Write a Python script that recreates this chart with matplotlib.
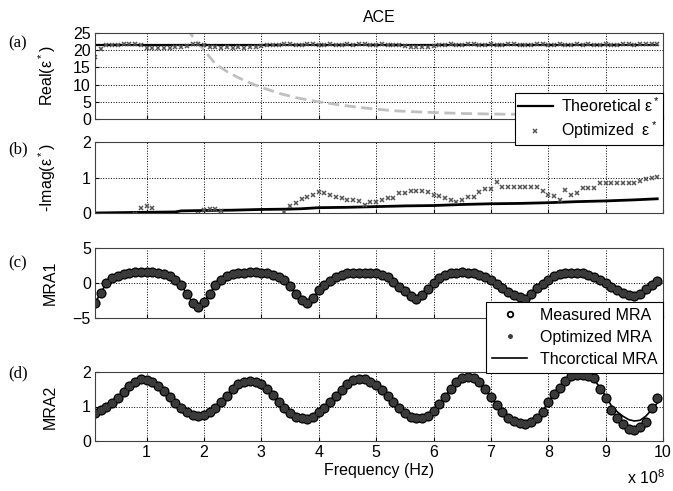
import numpy as np
import matplotlib
matplotlib.use('Agg')
import matplotlib.pyplot as plt
from matplotlib.lines import Line2D

plt.rcParams['font.family'] = ['Liberation Sans', 'DejaVu Sans']
plt.rcParams['mathtext.fontset'] = 'custom'
plt.rcParams['mathtext.rm'] = 'Liberation Sans'
plt.rcParams['mathtext.it'] = 'Liberation Sans'

# frequency samples (x 1e8 Hz)
freq = np.arange(1, 100) / 10.0

# (a) real part
real_theo_f = [0.1, 9.9]
real_theo = [21.6, 21.6]
real_opt = [18.0, 20.3, 21.4, 21.6, 21.5, 21.8, 21.7, 21.8, 21.4, 20.7,
            20.6, 20.5, 20.6, 20.5, 20.8, 21.0, 21.3, 21.9, 21.8, 21.6,
            20.9, 20.8, 20.7, 20.8, 20.6, 20.8, 20.7, 20.9, 20.8, 21.2,
            21.5, 21.6, 21.4, 21.7, 21.8, 21.5, 21.6, 21.7, 21.9, 21.6,
            21.5, 21.7, 21.6, 21.4, 21.8, 21.6, 21.7, 21.9, 21.5, 21.6,
            21.8, 21.5, 21.6, 21.4, 21.2, 20.9, 20.8, 20.9, 21.0, 21.3,
            21.5, 21.6, 21.7, 21.5, 21.6, 21.8, 21.9, 21.5, 21.6, 21.7,
            21.6, 21.5, 21.7, 21.8, 21.6, 21.5, 21.6, 21.9, 21.7, 21.6,
            21.5, 21.7, 21.6, 21.5, 21.8, 21.6, 21.7, 21.5, 21.6, 21.9,
            21.6, 21.5, 21.8, 21.7, 21.6, 21.7, 21.8, 21.7, 21.9]
gray_f = [1.7, 1.8, 1.9, 2.0, 2.2, 2.4, 2.6, 2.8, 3.0, 3.3, 3.6, 4.0, 4.4,
          4.8, 5.3, 5.8, 6.5, 7.2, 8.0, 9.0, 9.9]
gray_v = [26.5, 24, 22, 20, 16, 13.8, 12, 10.5, 9.2, 7.5, 6.2, 5, 4, 3.2,
          2.4, 2.0, 1.6, 1.4, 1.3, 1.2, 1.1]

# (b) imaginary part
theo_imag_f = [0.1, 0.5, 1.0, 1.5, 1.6, 2.0, 2.5, 3.0, 3.5, 3.7, 4.0, 4.5,
               5.0, 5.5, 6.0, 6.5, 7.0, 7.5, 8.0, 8.5, 9.0, 9.5, 9.9]
theo_imag = [0.0, 0.01, 0.02, 0.03, 0.06, 0.07, 0.08, 0.1, 0.11, 0.12, 0.15,
             0.16, 0.18, 0.2, 0.21, 0.24, 0.26, 0.27, 0.29, 0.32, 0.34, 0.37, 0.4]
imag_f = [0.8, 0.9, 1.0, 1.1, 1.9, 2.0, 2.1, 2.2, 2.3] + list(np.arange(34, 100) / 10.0)
imag_opt = [-0.04, 0.13, 0.2, 0.13, -0.03, 0.08, 0.1, 0.1, 0.07,
            0.04, 0.2, 0.27, 0.39, 0.46, 0.5,
            0.6, 0.57, 0.5, 0.46, 0.41, 0.38, 0.37, 0.35, 0.23, 0.32,
            0.32, 0.37, 0.41, 0.43, 0.57, 0.57, 0.62, 0.63, 0.63, 0.6,
            0.5, 0.48, 0.41, 0.37, 0.32, 0.37, 0.44, 0.44, 0.6, 0.67,
            0.67, 0.87, 0.74, 0.74, 0.74, 0.74, 0.74, 0.74, 0.72, 0.63,
            0.5, 0.47, 0.38, 0.65, 0.5, 0.55, 0.7, 0.7, 0.7, 0.84,
            0.85, 0.85, 0.85, 0.85, 0.85, 0.84, 0.9, 0.97, 1.0, 1.02]

# (c) MRA1
mra1_meas = [-2.9, -1.4, -0.05, 0.67, 1.05, 1.3, 1.5, 1.55, 1.6, 1.6,
             1.55, 1.45, 1.3, 1.05, 0.5, -0.3, -1.5, -2.8, -3.4, -2.7,
             -1.5, -0.3, 0.5, 1.0, 1.25, 1.4, 1.5, 1.6, 1.55, 1.5,
             1.4, 1.2, 0.9, 0.4, -0.4, -1.5, -2.4, -2.8, -2.2, -1.0,
             -0.3, 0.3, 0.9, 1.2, 1.4, 1.5, 1.5, 1.5, 1.5, 1.4,
             1.2, 0.8, 0.2, -0.5, -1.2, -1.85, -2.3, -1.7, -0.9, 0.0,
             0.7, 1.15, 1.4, 1.5, 1.6, 1.5, 1.4, 1.15, 0.8, 0.4,
             -0.15, -0.75, -1.25, -1.7, -2.0, -2.3, -1.5, -0.75, -0.15, 0.5,
             1.05, 1.3, 1.4, 1.5, 1.5, 1.4, 1.15, 0.8, 0.4, -0.05,
             -0.5, -1.0, -1.4, -1.7, -1.85, -1.5, -0.9, -0.3, 0.3]
mra1_opt = mra1_meas
mra1_theo = mra1_meas

# (d) MRA2
mra2_meas = [0.8, 0.9, 0.98, 1.09, 1.26, 1.43, 1.6, 1.72, 1.79, 1.78,
             1.72, 1.6, 1.45, 1.27, 1.11, 0.97, 0.85, 0.75, 0.72, 0.75,
             0.83, 0.97, 1.14, 1.31, 1.5, 1.64, 1.72, 1.75, 1.72, 1.64,
             1.5, 1.33, 1.14, 0.95, 0.8, 0.7, 0.66, 0.64, 0.7, 0.85,
             0.97, 1.12, 1.3, 1.48, 1.64, 1.77, 1.8, 1.79, 1.72, 1.62,
             1.48, 1.31, 1.14, 0.97, 0.8, 0.7, 0.66, 0.66, 0.73, 0.87,
             1.06, 1.28, 1.52, 1.72, 1.82, 1.86, 1.82, 1.7, 1.5, 1.28,
             1.04, 0.85, 0.68, 0.58, 0.51, 0.48, 0.54, 0.66, 0.85, 1.14,
             1.35, 1.54, 1.74, 1.89, 1.91, 1.91, 1.89, 1.82, 1.52, 1.24,
             0.9, 0.68, 0.48, 0.35, 0.32, 0.42, 0.56, 0.95, 1.26]
mra2_opt = mra2_meas
mra2_theo = [0.8, 0.9, 0.98, 1.09, 1.26, 1.43, 1.6, 1.72, 1.79, 1.78,
             1.72, 1.6, 1.45, 1.27, 1.11, 0.97, 0.85, 0.75, 0.72, 0.75,
             0.83, 0.97, 1.14, 1.31, 1.5, 1.64, 1.72, 1.75, 1.72, 1.64,
             1.5, 1.33, 1.14, 0.95, 0.8, 0.7, 0.66, 0.64, 0.7, 0.85,
             0.97, 1.12, 1.3, 1.48, 1.64, 1.77, 1.8, 1.79, 1.72, 1.62,
             1.48, 1.31, 1.14, 0.97, 0.8, 0.7, 0.66, 0.66, 0.73, 0.87,
             1.06, 1.28, 1.52, 1.72, 1.82, 1.86, 1.82, 1.7, 1.5, 1.28,
             1.04, 0.85, 0.68, 0.58, 0.51, 0.48, 0.54, 0.66, 0.85, 1.14,
             1.35, 1.54, 1.72, 1.84, 1.86, 1.86, 1.84, 1.78, 1.55, 1.3,
             1.02, 0.85, 0.72, 0.62, 0.58, 0.6, 0.72, 0.9, 1.1]

FS = 11.5
W, H = 673, 491
fig = plt.figure(figsize=(W / 100, H / 100), dpi=100)


def add_ax(top, bottom):
    return fig.add_axes([95 / W, 1 - bottom / H, (663 - 95) / W, (bottom - top) / H])


ax_a = add_ax(33, 119)
ax_b = add_ax(142, 213)
ax_c = add_ax(248, 318)
ax_d = add_ax(372, 441)
axes = [ax_a, ax_b, ax_c, ax_d]

dot_col = '#3a3a3a'

# (a)
ax_a.plot(gray_f, gray_v, color='#c0c0c0', ls='--', lw=2, dashes=(4, 2))
ax_a.plot(real_theo_f, real_theo, color='black', lw=1.6)
ax_a.plot(freq, real_opt, ls='none', marker='x', ms=3, mew=1.1, color='#555555')
ax_a.set_ylim(0, 25)
ax_a.set_yticks([0, 5, 10, 15, 20, 25])
ax_a.set_ylabel('Real(ε$^*$)', fontsize=FS)
ax_a.set_title('ACE', fontsize=FS, pad=8)

# (b)
ax_b.plot(theo_imag_f, theo_imag, color='black', lw=2)
ax_b.plot(imag_f, imag_opt, ls='none', marker='x', ms=3, mew=1.1, color='#555555')
ax_b.set_ylim(0, 2)
ax_b.set_yticks([0, 1, 2])
ax_b.set_ylabel('-Imag(ε$^*$)', fontsize=FS)

# (c)
ax_c.plot(freq, mra1_theo, color='black', lw=1.2)
ax_c.plot(freq, mra1_meas, ls='none', marker='o', ms=6, mfc='none', mec='black', mew=1.3)
ax_c.plot(freq, mra1_opt, ls='none', marker='o', ms=4.5, color=dot_col, mec=dot_col)
ax_c.set_ylim(-5, 5)
ax_c.set_yticks([-5, 0, 5])
ax_c.set_ylabel('MRA1', fontsize=FS)

# (d)
ax_d.plot(freq, mra2_theo, color='black', lw=1.2)
ax_d.plot(freq, mra2_meas, ls='none', marker='o', ms=6, mfc='none', mec='black', mew=1.3)
ax_d.plot(freq, mra2_opt, ls='none', marker='o', ms=4.5, color=dot_col, mec=dot_col)
ax_d.set_ylim(0, 2)
ax_d.set_yticks([0, 1, 2])
ax_d.set_ylabel('MRA2', fontsize=FS)
ax_d.set_xlabel('Frequency (Hz)', fontsize=FS, labelpad=2)

for ax in axes:
    ax.set_xlim(0.1, 10)
    ax.set_xticks(range(1, 11))
    ax.grid(True, color='black', ls=':', lw=0.7)
    ax.tick_params(direction='in', length=3, labelsize=FS, colors='black', pad=3)
    ax.yaxis.set_label_coords(-0.066, 0.5)
    for s in ax.spines.values():
        s.set_linewidth(0.8)
        s.set_color('#404040')
for ax in axes[:3]:
    ax.set_xticklabels([])

# panel letters
for lab, y in [('(a)', 43), ('(b)', 149), ('(c)', 263), ('(d)', 373)]:
    fig.text(8 / W, 1 - y / H, lab, fontsize=12, family='Liberation Serif', va='center')

fig.text(627 / W, 1 - 478 / H, 'x 10$^8$', fontsize=FS, va='center')

# legends
h_a = [Line2D([], [], color='black', lw=1.6),
       Line2D([], [], ls='none', marker='x', ms=3, mew=1.1, color='#555555')]
leg_a = fig.legend(h_a, ['Theoretical ε$^*$', 'Optimized  ε$^*$'], loc='upper right',
                   bbox_to_anchor=(663 / W, 1 - 93 / H), fontsize=FS, frameon=True,
                   fancybox=False, edgecolor='black', framealpha=1, handlelength=2.2,
                   handletextpad=0.5, labelspacing=0.3, borderaxespad=0, borderpad=0.2)
leg_a.get_frame().set_linewidth(0.8)

h_c = [Line2D([], [], ls='none', marker='o', ms=4, mfc='none', mec='black', mew=1.3),
       Line2D([], [], ls='none', marker='o', ms=2.5, color=dot_col),
       Line2D([], [], color='black', lw=1.2)]
leg_c = fig.legend(h_c, ['Measured MRA', 'Optimized MRA', 'Thcorctical MRA'], loc='upper right',
                   bbox_to_anchor=(663 / W, 1 - 302 / H), fontsize=FS, frameon=True,
                   fancybox=False, edgecolor='black', framealpha=1, handlelength=2.2,
                   labelspacing=0.45, borderaxespad=0, borderpad=0.35)
leg_c.get_frame().set_linewidth(0.8)

fig.savefig('out.png', dpi=100)
